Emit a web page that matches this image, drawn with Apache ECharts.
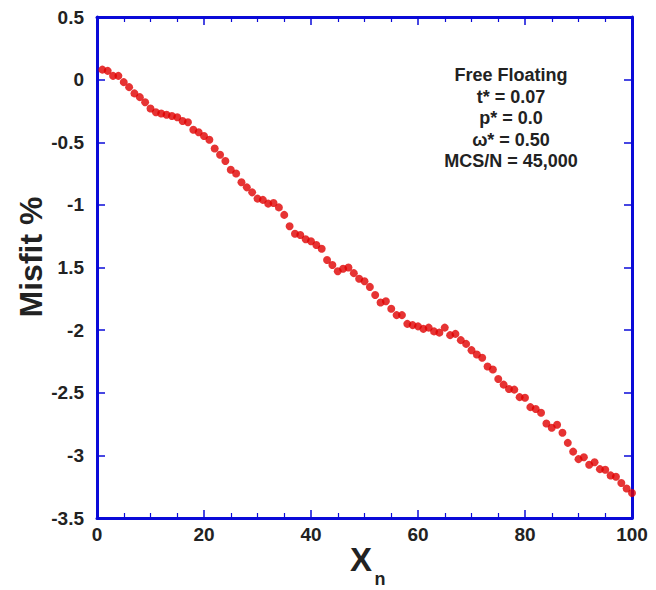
<!DOCTYPE html>
<html>
<head>
<meta charset="utf-8">
<script src="https://cdn.jsdelivr.net/npm/echarts@6/dist/echarts.min.js"></script>
<style>
html,body{margin:0;padding:0;background:#fff;}
#chart{width:656px;height:590px;}
</style>
</head>
<body>
<div id="chart"></div>
<script>
// Data
var xValues = [];
for (var i = 1; i <= 100; i++) xValues.push(i);
var misfit = [
  0.08, 0.07, 0.03, 0.03, -0.02, -0.06, -0.11, -0.14, -0.18, -0.23,
  -0.26, -0.27, -0.28, -0.29, -0.30, -0.33, -0.34, -0.40, -0.42, -0.45,
  -0.48, -0.55, -0.60, -0.65, -0.72, -0.75, -0.82, -0.86, -0.90, -0.95,
  -0.96, -0.99, -0.985, -1.02, -1.08, -1.17, -1.23, -1.24, -1.275, -1.29,
  -1.32, -1.35, -1.44, -1.48, -1.53, -1.51, -1.50, -1.545, -1.59, -1.61,
  -1.655, -1.72, -1.78, -1.77, -1.83, -1.88, -1.88, -1.95, -1.96, -1.97,
  -1.99, -1.98, -2.01, -2.02, -1.98, -2.04, -2.03, -2.08, -2.11, -2.16,
  -2.195, -2.22, -2.29, -2.315, -2.39, -2.435, -2.47, -2.475, -2.535, -2.54,
  -2.615, -2.63, -2.66, -2.745, -2.78, -2.755, -2.82, -2.90, -2.97, -3.03,
  -3.015, -3.075, -3.055, -3.11, -3.115, -3.16, -3.17, -3.22, -3.265, -3.30
];
var yTickValues = [0.5, 0, -0.5, -1, -1.5, -2, -2.5, -3, -3.5];
var yTickLabels = ['0.5', '0', '-0.5', '-1', '1.5', '-2', '-2.5', '-3', '-3.5'];
var xTickLabels = ['0', '20', '40', '60', '80', '100'];
var annotationLines = ['Free Floating', 't* = 0.07', 'p* = 0.0', '\u03c9* = 0.50', 'MCS/N = 45,000'];

var points = xValues.map(function (x, i) { return [x, misfit[i]]; });
var axisBlue = '#0a0ad8';
var textCol = '#222222';
var FONT = 'Liberation Sans, Arial, sans-serif';

function yLabel(v) {
  for (var k = 0; k < yTickValues.length; k++) {
    if (Math.abs(yTickValues[k] - v) < 1e-6) return yTickLabels[k];
  }
  return '';
}
function xLabel(v) {
  var idx = Math.round(v / 20);
  return xTickLabels[idx] !== undefined ? xTickLabels[idx] : '';
}

var chart = echarts.init(document.getElementById('chart'), null, {renderer: 'svg'});
var baseX = {
  type: 'value', min: 0, max: 100, interval: 20,
  axisLine: {show: true, onZero: false, lineStyle: {color: axisBlue, width: 3}},
  axisTick: {show: true, inside: true, length: 8, lineStyle: {color: axisBlue, width: 1.5}},
  minorTick: {show: true, splitNumber: 4, length: 5, lineStyle: {color: axisBlue, width: 1.2}},
  splitLine: {show: false}
};
var baseY = {
  type: 'value', min: -3.5, max: 0.5, interval: 0.5,
  axisLine: {show: true, onZero: false, lineStyle: {color: axisBlue, width: 3}},
  axisTick: {show: true, inside: true, length: 8, lineStyle: {color: axisBlue, width: 1.5}},
  splitLine: {show: false}
};
var option = {
  backgroundColor: '#ffffff',
  animation: false,
  grid: {left: 97, right: 24, top: 17, bottom: 72},
  xAxis: [
    Object.assign({}, baseX, {
      position: 'bottom',
      axisLabel: {show: true, margin: 7, color: textCol, fontSize: 19, fontWeight: 'bold', fontFamily: FONT, formatter: xLabel}
    }),
    Object.assign({}, baseX, {position: 'top', axisLabel: {show: false}})
  ],
  yAxis: [
    Object.assign({}, baseY, {
      position: 'left',
      axisLabel: {show: true, margin: 13, color: textCol, fontSize: 19, fontWeight: 'bold', fontFamily: FONT, formatter: yLabel}
    }),
    Object.assign({}, baseY, {position: 'right', axisLabel: {show: false}})
  ],
  series: [{
    type: 'scatter',
    data: points,
    symbol: 'circle',
    symbolSize: 8,
    itemStyle: {color: '#e00000'},
    xAxisIndex: 0, yAxisIndex: 0
  }],
  graphic: [
    {
      type: 'text', x: 31, y: 257, rotation: Math.PI / 2,
      style: {text: 'Misfit %', fill: textCol, font: 'bold 32px ' + FONT, align: 'center', verticalAlign: 'middle'}
    },
    {
      type: 'text', x: 361, y: 559,
      style: {text: 'X', fill: textCol, font: 'bold 33px ' + FONT, align: 'center', verticalAlign: 'middle'}
    },
    {
      type: 'text', x: 380, y: 579,
      style: {text: 'n', fill: textCol, font: 'bold 18px ' + FONT, align: 'center', verticalAlign: 'middle'}
    }
  ].concat(annotationLines.map(function (t, i) {
    return {
      type: 'text', x: 511, y: 75 + i * 21.5,
      style: {text: t, fill: textCol, font: 'bold 18px ' + FONT, align: 'center', verticalAlign: 'middle'}
    };
  }))
};
chart.setOption(option);
</script>
</body>
</html>
